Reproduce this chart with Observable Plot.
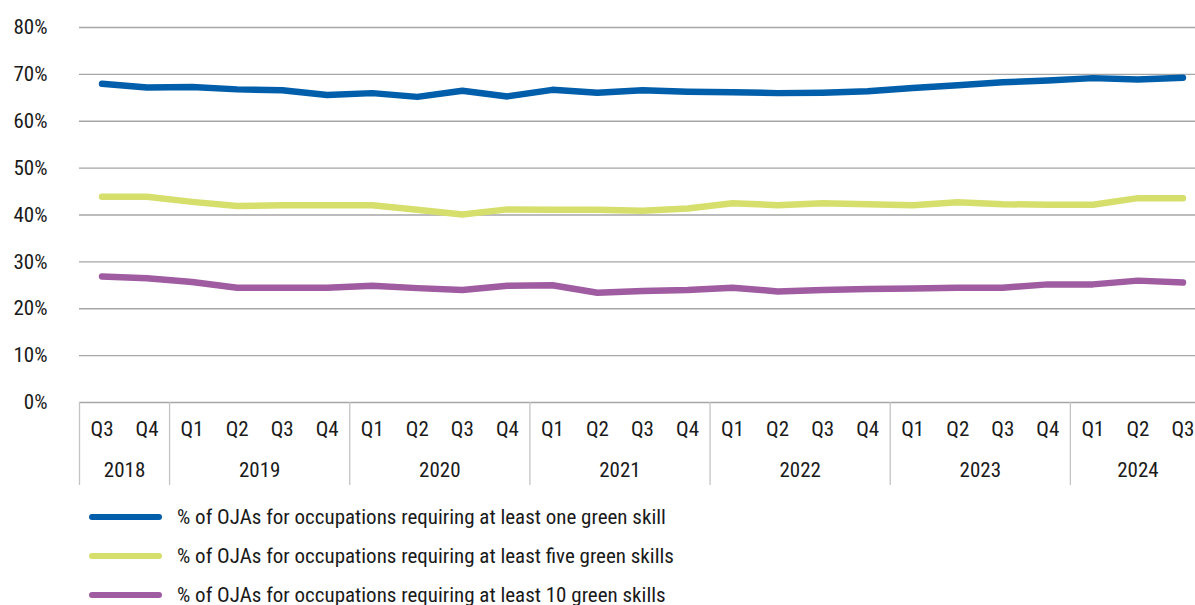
<!DOCTYPE html>
<html>
<head>
<meta charset="utf-8">
<script src="https://cdn.jsdelivr.net/npm/d3@7"></script>
<script src="https://cdn.jsdelivr.net/npm/@observablehq/plot@0.6"></script>
<style>
  body { margin: 0; background: #fff; font-family: "Liberation Sans Narrow", "Arial Narrow", "Roboto Condensed", sans-serif; }
  #chart svg { display: block; overflow: visible; }
  #legend { margin-left: 89px; margin-top: 7px; }
  .row { display: flex; align-items: center; height: 39px; font-size: 21px; color: #1a1a1a; }
  .sw { width: 73px; height: 6px; border-radius: 3px; margin-right: 15px; }
</style>
</head>
<body>
<div id="chart"></div>
<div id="legend"></div>
<script>
// ---- data ----
const quarters = ["Q3","Q4","Q1","Q2","Q3","Q4","Q1","Q2","Q3","Q4","Q1","Q2","Q3","Q4","Q1","Q2","Q3","Q4","Q1","Q2","Q3","Q4","Q1","Q2","Q3"];
const quarterYears = [2018,2018,2019,2019,2019,2019,2020,2020,2020,2020,2021,2021,2021,2021,2022,2022,2022,2022,2023,2023,2023,2023,2024,2024,2024];
const oneSkill   = [68.0,67.2,67.3,66.8,66.6,65.6,66.0,65.2,66.5,65.3,66.7,66.1,66.6,66.3,66.2,66.0,66.1,66.4,67.1,67.7,68.3,68.7,69.2,68.9,69.3];
const fiveSkills = [43.9,43.9,42.8,41.9,42.1,42.1,42.1,41.1,40.1,41.2,41.1,41.1,40.9,41.4,42.5,42.1,42.5,42.3,42.1,42.7,42.3,42.2,42.2,43.6,43.6];
const tenSkills  = [26.9,26.5,25.7,24.5,24.5,24.5,24.9,24.4,24.0,24.9,25.0,23.4,23.8,24.0,24.5,23.7,24.0,24.2,24.3,24.5,24.5,25.2,25.2,26.0,25.6];
const seriesNames = [
  "% of OJAs for occupations requiring at least one green skill",
  "% of OJAs for occupations requiring at least five green skills",
  "% of OJAs for occupations requiring at least 10 green skills"
];
const seriesColors = ["#005eaa", "#d6df6c", "#9f5ca1"];
const yTicks = [0,10,20,30,40,50,60,70,80];

// ---- derived tables ----
const seriesValues = [oneSkill, fiveSkills, tenSkills];
const rows = seriesValues.flatMap((vals, s) => vals.map((v, i) => ({i, value: v, series: seriesNames[s]})));
const idx = quarters.map((_, i) => i);
const years = Array.from(new Set(quarterYears));
const yearLabels = years.map(y => {
  const ii = idx.filter(i => quarterYears[i] === y);
  return {year: String(y), mid: d3.mean(ii)};
});
const boundaries = idx.filter(i => i === 0 || quarterYears[i] !== quarterYears[i - 1]).map(i => i - 0.5);

const fontFam = '"Liberation Sans Narrow", "Arial Narrow", "Roboto Condensed", sans-serif';
const fs = 21;

const chart = Plot.plot({
  width: 1195,
  height: 490,
  marginLeft: 79,
  marginRight: 0,
  marginTop: 27,
  marginBottom: 88,
  style: {fontFamily: fontFam, fontSize: fs + "px", color: "#1a1a1a", background: "#fff"},
  x: {domain: [-0.5, quarters.length - 0.5], range: [79, 79 + 45.04 * quarters.length], label: null},
  y: {domain: [0, 80], label: null},
  color: {domain: seriesNames, range: seriesColors},
  marks: [
    Plot.ruleY(yTicks, {stroke: "#a6a6a6", strokeWidth: 1.3}),
    Plot.ruleX(boundaries, {x: d => d, y1: () => 0, y2: () => 0, insetBottom: -83, stroke: "#c4c4c4", strokeWidth: 1.3}),
    Plot.axisY({ticks: yTicks, tickFormat: d => d + "%", tickSize: 0, tickPadding: 32, fontSize: fs, label: null}),
    Plot.axisX({ticks: idx, tickFormat: i => quarters[i], tickSize: 0, tickPadding: 19, fontSize: fs, label: null}),
    Plot.text(yearLabels, {x: "mid", y: () => 0, text: "year", dy: 68, fontSize: fs, fill: "#1a1a1a"}),
    Plot.line(rows, {x: "i", y: "value", z: "series", stroke: "series", strokeWidth: 6.5, strokeLinecap: "round", strokeLinejoin: "round"})
  ]
});
document.getElementById("chart").appendChild(chart);

const legend = document.getElementById("legend");
seriesNames.forEach((name, s) => {
  const row = document.createElement("div");
  row.className = "row";
  const sw = document.createElement("div");
  sw.className = "sw";
  sw.style.background = seriesColors[s];
  const t = document.createElement("span");
  t.textContent = name;
  row.appendChild(sw);
  row.appendChild(t);
  legend.appendChild(row);
});
</script>
</body>
</html>
